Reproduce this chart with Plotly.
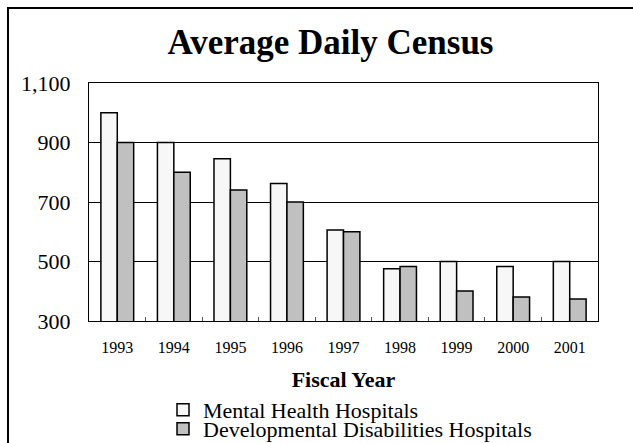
import plotly.graph_objects as go

years = ["1993", "1994", "1995", "1996", "1997", "1998", "1999", "2000", "2001"]
mental_health = [1000, 900, 845, 762, 606, 476, 500, 483, 500]
developmental = [900, 800, 740, 700, 600, 483, 401, 381, 374]
y_ticks = [300, 500, 700, 900, 1100]

W, H = 633, 443
L, R, T, B = 89, 35, 83, 122
pw, ph = W - L - R, H - T - B

def px_x(x):
    return (x - L) / pw

def px_y(y):
    return (H - B - y) / ph

FONT = "Liberation Serif"

fig = go.Figure()
fig.add_trace(go.Bar(
    x=years, y=mental_health, name="Mental Health Hospitals",
    marker=dict(color="#F7F7F7", line=dict(color="black", width=1.5)),
    legend="legend", showlegend=True,
))
fig.add_trace(go.Bar(
    x=years, y=developmental, name="Developmental Disabilities Hospitals",
    marker=dict(color="#C0C0C0", line=dict(color="black", width=1.5)),
    legend="legend2", showlegend=True,
))

fig.update_layout(
    width=W, height=H, showlegend=True,
    margin=dict(l=L, r=R, t=T, b=B, pad=0, autoexpand=False),
    paper_bgcolor="white", plot_bgcolor="white",
    font=dict(family=FONT, color="black"),
    barmode="group", bargap=0.42, bargroupgap=0,
    title=dict(
        text="<b>Average Daily Census</b>",
        font=dict(family=FONT, size=35, color="black"),
        x=330.5 / W, xanchor="center", xref="container",
        y=1 - 42 / H, yanchor="middle", yref="container",
    ),
    xaxis=dict(
        type="category",
        showline=True, linecolor="black", linewidth=1, mirror=True,
        ticks="inside", ticklen=4, tickcolor="#555555", tickson="boundaries",
        tickfont=dict(family=FONT, size=16, color="black"),
        ticklabelstandoff=12,
        showgrid=False,
        title=dict(text="<b>Fiscal Year</b>", font=dict(family=FONT, size=22, color="black"), standoff=16),
    ),
    yaxis=dict(
        range=[300, 1100],
        tickmode="array", tickvals=y_ticks, tickformat=",",
        showline=True, linecolor="black", linewidth=1, mirror=True,
        showgrid=True, gridcolor="black", gridwidth=1,
        ticks="", tickfont=dict(family=FONT, size=22, color="black"),
        ticklabelstandoff=13,
        zeroline=False,
    ),
    legend=dict(
        x=px_x(163), xanchor="left", y=px_y(389), yanchor="top",
        font=dict(family=FONT, size=22, color="black"),
        bgcolor="rgba(0,0,0,0)", borderwidth=0, itemwidth=30,
    ),
    legend2=dict(
        x=px_x(163), xanchor="left", y=px_y(408), yanchor="top",
        font=dict(family=FONT, size=22, color="black"),
        bgcolor="rgba(0,0,0,0)", borderwidth=0, itemwidth=30,
    ),
    shapes=[dict(
        type="rect", xref="paper", yref="paper",
        x0=px_x(8), x1=px_x(700), y0=px_y(500), y1=px_y(8),
        line=dict(color="black", width=2), fillcolor="rgba(0,0,0,0)",
        layer="below",
    )],
)

fig.write_html("out.html", config={"displayModeBar": False},
               post_script="document.body.style.margin='0';")
